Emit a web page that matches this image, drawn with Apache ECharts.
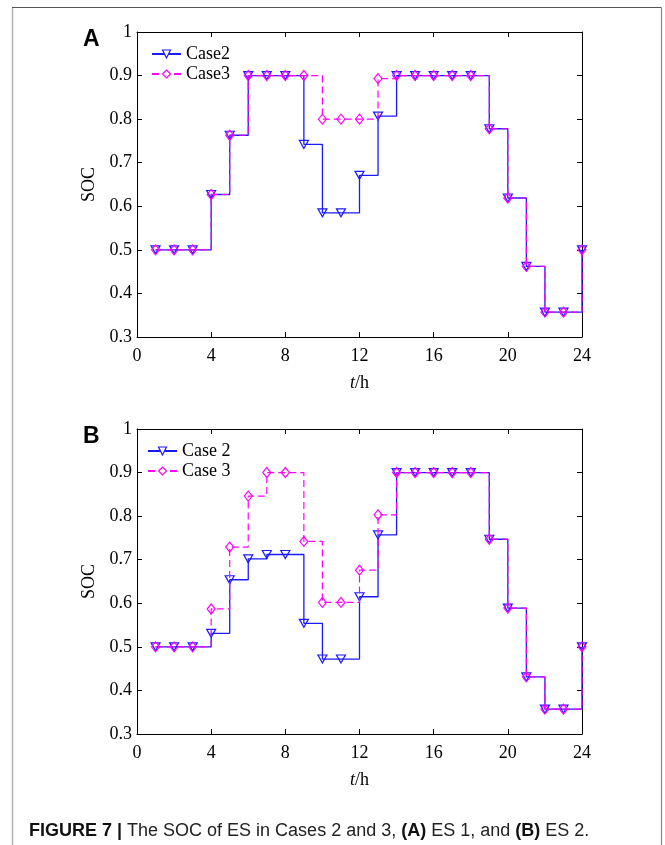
<!DOCTYPE html>
<html>
<head>
<meta charset="utf-8">
<script src="https://cdn.jsdelivr.net/npm/echarts@6/dist/echarts.min.js"></script>
<style>
  html, body { margin: 0; padding: 0; background: #fff; }
  #chart { width: 665px; height: 845px; }
</style>
</head>
<body>
<div id="chart"></div>
<script>
// Hours of the day (one dispatch interval per hour)
const hours = [1, 2, 3, 4, 5, 6, 7, 8, 9, 10, 11, 12, 13, 14, 15, 16, 17, 18, 19, 20, 21, 22, 23, 24];

// ES 1 state of charge
const es1Case2 = [0.5, 0.5, 0.5, 0.627, 0.763, 0.9, 0.9, 0.9, 0.742, 0.585, 0.585, 0.671, 0.807, 0.9, 0.9, 0.9, 0.9, 0.9, 0.778, 0.619, 0.462, 0.357, 0.357, 0.5];
const es1Case3 = [0.5, 0.5, 0.5, 0.627, 0.763, 0.9, 0.9, 0.9, 0.9, 0.8, 0.8, 0.8, 0.893, 0.9, 0.9, 0.9, 0.9, 0.9, 0.778, 0.619, 0.462, 0.357, 0.357, 0.5];

// ES 2 state of charge
const es2Case2 = [0.5, 0.5, 0.5, 0.531, 0.654, 0.702, 0.712, 0.712, 0.554, 0.472, 0.472, 0.615, 0.757, 0.9, 0.9, 0.9, 0.9, 0.9, 0.747, 0.589, 0.431, 0.357, 0.357, 0.5];
const es2Case3 = [0.5, 0.5, 0.5, 0.587, 0.729, 0.846, 0.9, 0.9, 0.742, 0.602, 0.602, 0.676, 0.803, 0.9, 0.9, 0.9, 0.9, 0.9, 0.747, 0.589, 0.431, 0.357, 0.357, 0.5];

// Axis ranges and tick spacing
const xTicks = [0, 4, 8, 12, 16, 20, 24];
const yTicks = [0.3, 0.4, 0.5, 0.6, 0.7, 0.8, 0.9, 1];

const legendNamesA = ['Case2', 'Case3'];
const legendNamesB = ['Case 2', 'Case 3'];

const SERIF = '"Liberation Serif", "DejaVu Serif", serif';
const SANS = '"Liberation Sans", Arial, sans-serif';
const BLUE = '#1a1aff';
const MAGENTA = '#ff00ff';
const HOLLOW = 'rgba(255,255,255,0)';

const panels = [
  { top: 32, letter: 'A', names: legendNamesA, c2: es1Case2, c3: es1Case3, legendLeft: 146 },
  { top: 429, letter: 'B', names: legendNamesB, c2: es2Case2, c3: es2Case3, legendLeft: 142 }
];

const grids = [], xAxes = [], yAxes = [], series = [], legends = [], graphics = [];

panels.forEach((p, i) => {
  grids.push({ left: 137, width: 445, top: p.top, height: 305, containLabel: false });

  const tickCommon = { show: true, inside: true, length: 5, lineStyle: { color: '#000', width: 1 } };
  const lineCommon = { show: true, onZero: false, lineStyle: { color: '#000', width: 1 } };

  // bottom x axis with labels
  xAxes.push({
    type: 'value', gridIndex: i, position: 'bottom',
    min: xTicks[0], max: xTicks[xTicks.length - 1], interval: xTicks[1] - xTicks[0],
    axisLine: lineCommon, axisTick: tickCommon, splitLine: { show: false },
    axisLabel: { color: '#000', fontFamily: SERIF, fontSize: 18, margin: 10 },
    name: '{i|t}/h', nameLocation: 'middle', nameGap: 37,
    nameTextStyle: {
      color: '#000', fontFamily: SERIF, fontSize: 18,
      rich: { i: { fontStyle: 'italic', fontFamily: SERIF, fontSize: 18, color: '#000' } }
    }
  });
  // top x axis: frame + ticks only
  xAxes.push({
    type: 'value', gridIndex: i, position: 'top',
    min: xTicks[0], max: xTicks[xTicks.length - 1], interval: xTicks[1] - xTicks[0],
    axisLine: lineCommon, axisTick: tickCommon, axisLabel: { show: false }, splitLine: { show: false }
  });
  // left y axis with labels
  yAxes.push({
    type: 'value', gridIndex: i, position: 'left',
    min: yTicks[0], max: yTicks[yTicks.length - 1], interval: 0.1,
    axisLine: lineCommon, axisTick: tickCommon, splitLine: { show: false },
    axisLabel: {
      color: '#000', fontFamily: SERIF, fontSize: 18, margin: 5,
      formatter: v => (Math.abs(v - 1) < 1e-9 ? '1' : v.toFixed(1))
    },
    name: 'SOC', nameLocation: 'middle', nameGap: 30, nameRotate: 90,
    nameTextStyle: { color: '#000', fontFamily: SERIF, fontSize: 18 }
  });
  // right y axis: frame + ticks only
  yAxes.push({
    type: 'value', gridIndex: i, position: 'right',
    min: yTicks[0], max: yTicks[yTicks.length - 1], interval: 0.1,
    axisLine: lineCommon, axisTick: tickCommon, axisLabel: { show: false }, splitLine: { show: false }
  });

  const xIdx = i * 2, yIdx = i * 2;
  series.push({
    name: p.names[0], type: 'line', step: 'end',
    xAxisIndex: xIdx, yAxisIndex: yIdx,
    data: hours.map((h, k) => [h, p.c2[k]]),
    symbol: 'triangle', symbolRotate: 180, symbolSize: [9, 8],
    lineStyle: { color: BLUE, width: 1.3 },
    itemStyle: { color: HOLLOW, borderColor: BLUE, borderWidth: 1.2 },
    clip: false, animation: false, z: 2
  });
  series.push({
    name: p.names[1], type: 'line', step: 'end',
    xAxisIndex: xIdx, yAxisIndex: yIdx,
    data: hours.map((h, k) => [h, p.c3[k]]),
    symbol: 'diamond', symbolSize: [8, 10],
    lineStyle: { color: MAGENTA, width: 1.2, type: [7, 4] },
    itemStyle: { color: HOLLOW, borderColor: MAGENTA, borderWidth: 1.2 },
    clip: false, animation: false, z: 3
  });

  legends.push({
    data: [
      { name: p.names[0], itemStyle: { color: '#fff', borderColor: BLUE, borderWidth: 1.2 } },
      { name: p.names[1], itemStyle: { color: '#fff', borderColor: MAGENTA, borderWidth: 1.2 } }
    ],
    orient: 'vertical', left: p.legendLeft, top: p.top + 8,
    itemWidth: 29, itemHeight: 10, itemGap: 2,
    textStyle: { color: '#000', fontFamily: SERIF, fontSize: 18, lineHeight: 18 },
    backgroundColor: 'transparent', borderWidth: 0, selectedMode: false
  });

  graphics.push({
    type: 'text', left: 83, top: p.top - 4,
    style: { text: p.letter, font: 'bold 23px ' + SANS, fill: '#000' }
  });
});

// page frame
graphics.push({ type: 'line', shape: { x1: 12.5, y1: 8, x2: 12.5, y2: 845 }, style: { stroke: '#b0b0b0', lineWidth: 1.5 } });
graphics.push({ type: 'line', shape: { x1: 12, y1: 7.5, x2: 661.5, y2: 7.5 }, style: { stroke: '#555', lineWidth: 1.2 } });
graphics.push({ type: 'line', shape: { x1: 661.5, y1: 7.5, x2: 661.5, y2: 845 }, style: { stroke: '#888', lineWidth: 1.2 } });

// caption
graphics.push({
  type: 'text', left: 29, top: 822,
  style: {
    text: '{b|FIGURE 7 |} The SOC of ES in Cases 2 and 3, {b|(A)} ES 1, and {b|(B)} ES 2.',
    font: '18px ' + SANS, fill: '#222',
    rich: { b: { fontWeight: 'bold', fontFamily: SANS, fontSize: 18, fill: '#111' } }
  }
});

const chart = echarts.init(document.getElementById('chart'), null, { renderer: 'canvas' });
chart.setOption({
  animation: false,
  backgroundColor: '#fff',
  grid: grids, xAxis: xAxes, yAxis: yAxes, series: series, legend: legends, graphic: graphics
});
</script>
</body>
</html>
